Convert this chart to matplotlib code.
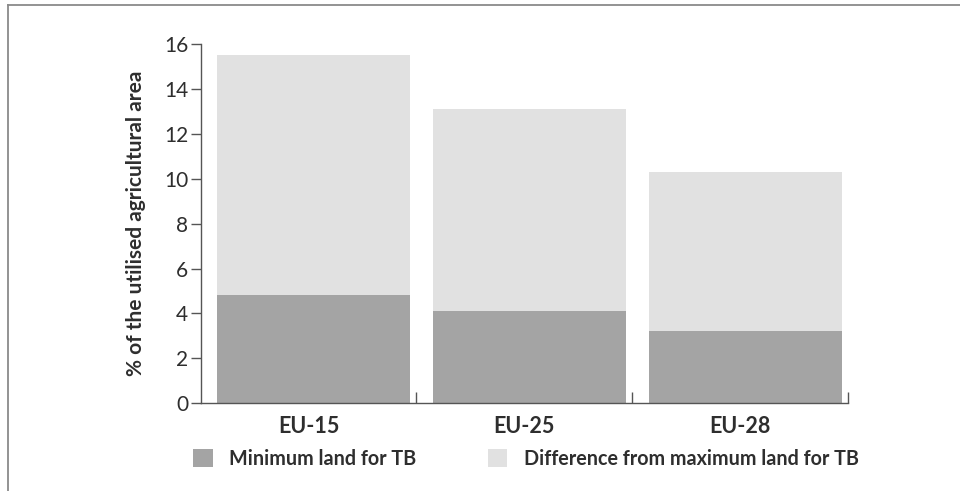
import matplotlib as mpl
from matplotlib import pyplot as plt
from matplotlib.patches import Patch
import numpy as np

# values (% of utilised agricultural area)
regions = ['EU-15', 'EU-25', 'EU-28']
min_land = [4.8, 4.1, 3.2]
max_land = [15.5, 13.1, 10.3]
diff_land = [mx - mn for mx, mn in zip(max_land, min_land)]

dark = '#a4a4a4'
light = '#e1e1e1'
txt = '#2e2e2e'

mpl.rcParams['font.family'] = ['Lato', 'DejaVu Sans']
mpl.rcParams['text.color'] = txt

fig = plt.figure(figsize=(9.6, 4.91), dpi=100)
ax = fig.add_axes([0.209, 0.179, 0.674, 0.731])

x = np.arange(len(regions)) + 0.025
ax.bar(x, min_land, width=0.895, color=dark, linewidth=0)
ax.bar(x, diff_land, width=0.895, bottom=min_land, color=light, linewidth=0)

ax.set_xlim(-0.5, 2.5)
ax.set_ylim(0, 16)
ax.set_yticks(np.arange(0, 17, 2))
ax.set_yticklabels([str(v) for v in range(0, 17, 2)], fontsize=15, color=txt)
ax.tick_params(axis='y', direction='out', length=7, width=1, color='#555555', pad=2)

# category boundaries get the ticks, labels sit in the middle
ax.set_xticks([0.5, 1.5, 2.5])
ax.set_xticklabels([])
ax.set_xticks(np.arange(len(regions)), minor=True)
ax.set_xticklabels(regions, minor=True, fontsize=15.5, fontweight='bold', color=txt)
ax.tick_params(axis='x', which='major', direction='in', length=8, width=1, color='#555555')
ax.tick_params(axis='x', which='minor', length=0, pad=9)

for s in ['top', 'right']:
    ax.spines[s].set_visible(False)
for s in ['left', 'bottom']:
    ax.spines[s].set_color('#555555')
    ax.spines[s].set_linewidth(1)

ax.set_ylabel('% of the utilised agricultural area', fontsize=15, fontweight='bold',
              color=txt, labelpad=13)

handles = [Patch(facecolor=dark, edgecolor='none'), Patch(facecolor=light, edgecolor='none')]
fig.legend(handles, ['Minimum land for TB', 'Difference from maximum land for TB'],
           loc='center left', bbox_to_anchor=(0.201, 0.066), ncol=2, frameon=False,
           prop={'size': 14.2, 'weight': 'bold'}, handlelength=1.0, handleheight=1.0,
           handletextpad=0.85, columnspacing=3.6, borderaxespad=0, borderpad=0)

# page frame of the scanned figure
fig.add_artist(plt.Line2D([0.008, 0.008], [0, 0.99], transform=fig.transFigure,
                          color='#8a8a8a', linewidth=1.3))
fig.add_artist(plt.Line2D([0.008, 1], [0.99, 0.99], transform=fig.transFigure,
                          color='#8a8a8a', linewidth=1.3))

fig.savefig('out.png', dpi=100)
